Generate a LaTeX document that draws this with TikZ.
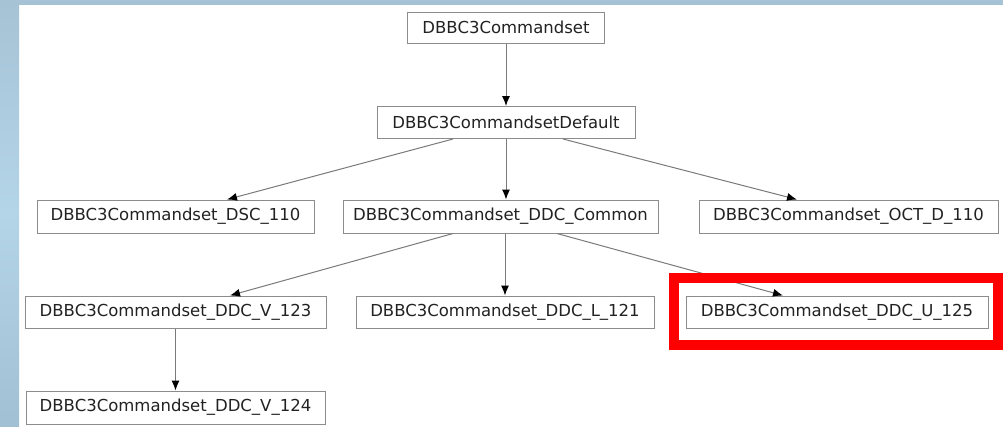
\documentclass[tikz,border=0pt]{standalone}
\usepackage{fontspec}
\setmainfont{DejaVu Sans}
\usetikzlibrary{arrows.meta,calc}
\definecolor{edgegray}{HTML}{7A7A7A}
\definecolor{boxgray}{HTML}{8C8C8C}
\definecolor{txt}{HTML}{222222}
\definecolor{bgleft}{HTML}{B4D4E8}
\definecolor{bgtop}{HTML}{A6C3D5}
\definecolor{bgbot}{HTML}{A2C0D4}
\tikzset{
  cls/.style={draw=boxgray, line width=1pt, fill=white, inner sep=0pt,
    text=txt, font=\fontsize{16.5}{18}\selectfont, minimum height=32pt},
  edge/.style={draw=edgegray, line width=1pt, -{Latex[length=10pt,width=8pt,color=black]}},
  highlight/.style={draw=red, line width=10pt}
}
\begin{document}
\begin{tikzpicture}[x=1pt,y=-1pt]
\useasboundingbox (0,0) rectangle (1003,426);
% background
\fill[white] (0,0) rectangle (1003,426);
\shade[top color=bgtop, bottom color=bgbot, middle color=bgleft] (0,0) rectangle (19,426);
\fill[bgtop] (0,0) rectangle (1003,4.5);
% nodes
\node[cls, minimum width=197pt, minimum height=31pt] (n0) at (506,27.5) {DBBC3Commandset};
\node[cls, minimum width=258pt] (n1) at (506,122.5) {DBBC3CommandsetDefault};
\node[cls, minimum width=277pt, minimum height=33pt] (n2) at (175.5,216.5) {DBBC3Commandset\_DSC\_110};
\node[cls, minimum width=315pt, minimum height=33pt] (n3) at (500.5,216.5) {DBBC3Commandset\_DDC\_Common};
\node[cls, minimum width=299pt, minimum height=33pt] (n4) at (848.5,216.5) {DBBC3Commandset\_OCT\_D\_110};
\node[cls, minimum width=301pt] (n5) at (175.5,312) {DBBC3Commandset\_DDC\_V\_123};
\node[cls, minimum width=298pt] (n6) at (505,312) {DBBC3Commandset\_DDC\_L\_121};
\node[cls, minimum width=302pt] (n7) at (837,312) {DBBC3Commandset\_DDC\_U\_125};
\node[cls, minimum width=299pt, minimum height=33pt] (n8) at (175.5,407.5) {DBBC3Commandset\_DDC\_V\_124};
% edges
\draw[edge] (n0.south) -- (n1.north);
\draw[edge] ($(n1.south)+(-53,0)$) -- ($(n2.north)+(51.5,0)$);
\draw[edge] (n1.south) -- ($(n3.north)+(5.5,0)$);
\draw[edge] ($(n1.south)+(57,0)$) -- ($(n4.north)+(-51.5,0)$);
\draw[edge] ($(n3.south)+(-47.5,0)$) -- ($(n5.north)+(54.5,0)$);
\draw[edge] ($(n3.south)+(4.5,0)$) -- (n6.north);
\draw[edge] ($(n3.south)+(56.5,0)$) -- ($(n7.north)+(-54,0)$);
\draw[edge] (n5.south) -- (n8.north);
% highlight
\draw[highlight] (674,278) rectangle (998,344.5);
\end{tikzpicture}
\end{document}
